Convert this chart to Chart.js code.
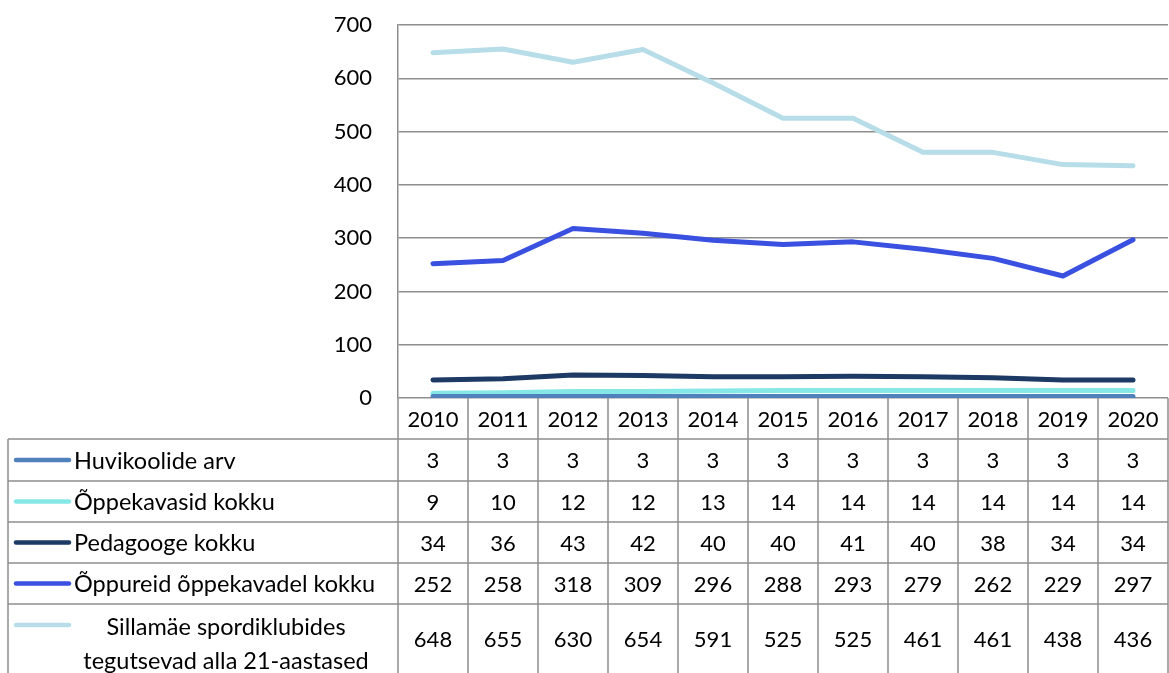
<!DOCTYPE html>
<html>
<head>
<meta charset="utf-8">
<script src="https://cdn.jsdelivr.net/npm/chart.js@4/dist/chart.umd.min.js"></script>
<style>
  html, body { margin: 0; background: #fff; }
  #wrap { width: 1169px; height: 673px; }
</style>
</head>
<body>
<div id="wrap"><canvas id="chart"></canvas></div>
<script>
// andmed
const years = ["2010", "2011", "2012", "2013", "2014", "2015", "2016", "2017", "2018", "2019", "2020"];
const huvikoolid = [3, 3, 3, 3, 3, 3, 3, 3, 3, 3, 3];
const oppekavad = [9, 10, 12, 12, 13, 14, 14, 14, 14, 14, 14];
const pedagoogid = [34, 36, 43, 42, 40, 40, 41, 40, 38, 34, 34];
const oppurid = [252, 258, 318, 309, 296, 288, 293, 279, 262, 229, 297];
const spordiklubid = [648, 655, 630, 654, 591, 525, 525, 461, 461, 438, 436];
const yTicks = [0, 100, 200, 300, 400, 500, 600, 700];

const FONT = "Lato, 'Open Sans', sans-serif";
const LABEL_FONT = "23.5px Lato, 'Open Sans', sans-serif";
const GRID = "#8e8e8e";

const series = [
  { label: "Huvikoolide arv", lines: ["Huvikoolide arv"], data: huvikoolid, color: "#4f81bd" },
  { label: "Õppekavasid kokku", lines: ["Õppekavasid kokku"], data: oppekavad, color: "#86e8e6" },
  { label: "Pedagooge kokku", lines: ["Pedagooge kokku"], data: pedagoogid, color: "#1c3a63" },
  { label: "Õppureid õppekavadel kokku", lines: ["Õppureid õppekavadel kokku"], data: oppurid, color: "#3a50e0" },
  { label: "Sillamäe spordiklubides tegutsevad alla 21-aastased",
    lines: ["Sillamäe spordiklubides", "tegutsevad alla 21-aastased"], data: spordiklubid, color: "#b7dde8" },
];

// tabel graafiku all
const dataTable = {
  id: "dataTable",
  afterDraw(chart) {
    const ctx = chart.ctx;
    const area = chart.chartArea;
    const xs = chart.scales.x;
    const colW = (area.right - area.left) / years.length;
    const tableLeft = 8;
    const b = area.bottom;
    const rows = [b, b + 41, b + 83, b + 124, b + 165, b + 206, b + 290];

    ctx.save();
    ctx.strokeStyle = GRID;
    ctx.lineWidth = 1.5;
    // vertikaalsed jooned
    for (let i = 0; i <= years.length; i++) {
      const x = area.left + i * colW;
      ctx.beginPath();
      ctx.moveTo(x, b);
      ctx.lineTo(x, chart.height);
      ctx.stroke();
    }
    ctx.beginPath();
    ctx.moveTo(tableLeft, rows[1]);
    ctx.lineTo(tableLeft, chart.height);
    ctx.stroke();
    // horisontaalsed jooned
    for (let r = 1; r < rows.length - 1; r++) {
      ctx.beginPath();
      ctx.moveTo(tableLeft, rows[r]);
      ctx.lineTo(area.right, rows[r]);
      ctx.stroke();
    }

    ctx.fillStyle = "#000";
    ctx.font = "22px " + FONT;
    ctx.textAlign = "center";
    ctx.textBaseline = "middle";
    years.forEach((y, i) => {
      ctx.fillText(y, xs.getPixelForValue(i), (rows[0] + rows[1]) / 2 + 1);
    });

    series.forEach((s, r) => {
      const top = rows[r + 1];
      const bottom = r === series.length - 1 ? b + 275 : rows[r + 2];
      const cy = (top + bottom) / 2;
      // legendi joon
      const ly = s.lines.length > 1 ? top + 21 : cy;
      ctx.strokeStyle = s.color;
      ctx.lineWidth = 4.5;
      ctx.lineCap = "round";
      ctx.beginPath();
      ctx.moveTo(16, ly);
      ctx.lineTo(69, ly);
      ctx.stroke();
      // legendi tekst
      ctx.font = LABEL_FONT;
      if (s.lines.length > 1) {
        ctx.textAlign = "center";
        ctx.fillText(s.lines[0], 226, top + 23);
        ctx.fillText(s.lines[1], 226, top + 57);
      } else {
        ctx.textAlign = "left";
        ctx.fillText(s.lines[0], 74, cy + 1);
      }
      ctx.font = "22px " + FONT;
      ctx.textAlign = "center";
      s.data.forEach((v, i) => {
        ctx.fillText(String(v), xs.getPixelForValue(i), cy + 1);
      });
    });
    ctx.restore();
  },
};

new Chart(document.getElementById("chart"), {
  type: "line",
  data: {
    labels: years,
    datasets: series.map((s) => ({
      label: s.label,
      data: s.data,
      borderColor: s.color,
      backgroundColor: s.color,
      borderWidth: 5,
      pointRadius: 0,
      tension: 0,
      borderCapStyle: "round",
      borderJoinStyle: "round",
    })),
  },
  options: {
    responsive: true,
    maintainAspectRatio: false,
    animation: false,
    layout: { padding: { top: 25, bottom: 275, right: 1, left: 0 } },
    plugins: { legend: { display: false }, tooltip: { enabled: false } },
    scales: {
      x: { display: false, offset: true },
      y: {
        min: 0,
        max: 700,
        afterFit(scale) {
          scale.width = 398;
          scale.paddingTop = 0;
          scale.paddingBottom = 0;
        },
        afterBuildTicks(scale) { scale.ticks = yTicks.map((v) => ({ value: v })); },
        ticks: { padding: 26, color: "#000", font: { family: FONT, size: 22 } },
        grid: { color: GRID, lineWidth: 1.5, drawTicks: false },
        border: { display: true, color: GRID, width: 1.5 },
      },
    },
  },
  plugins: [dataTable],
});
</script>
</body>
</html>
